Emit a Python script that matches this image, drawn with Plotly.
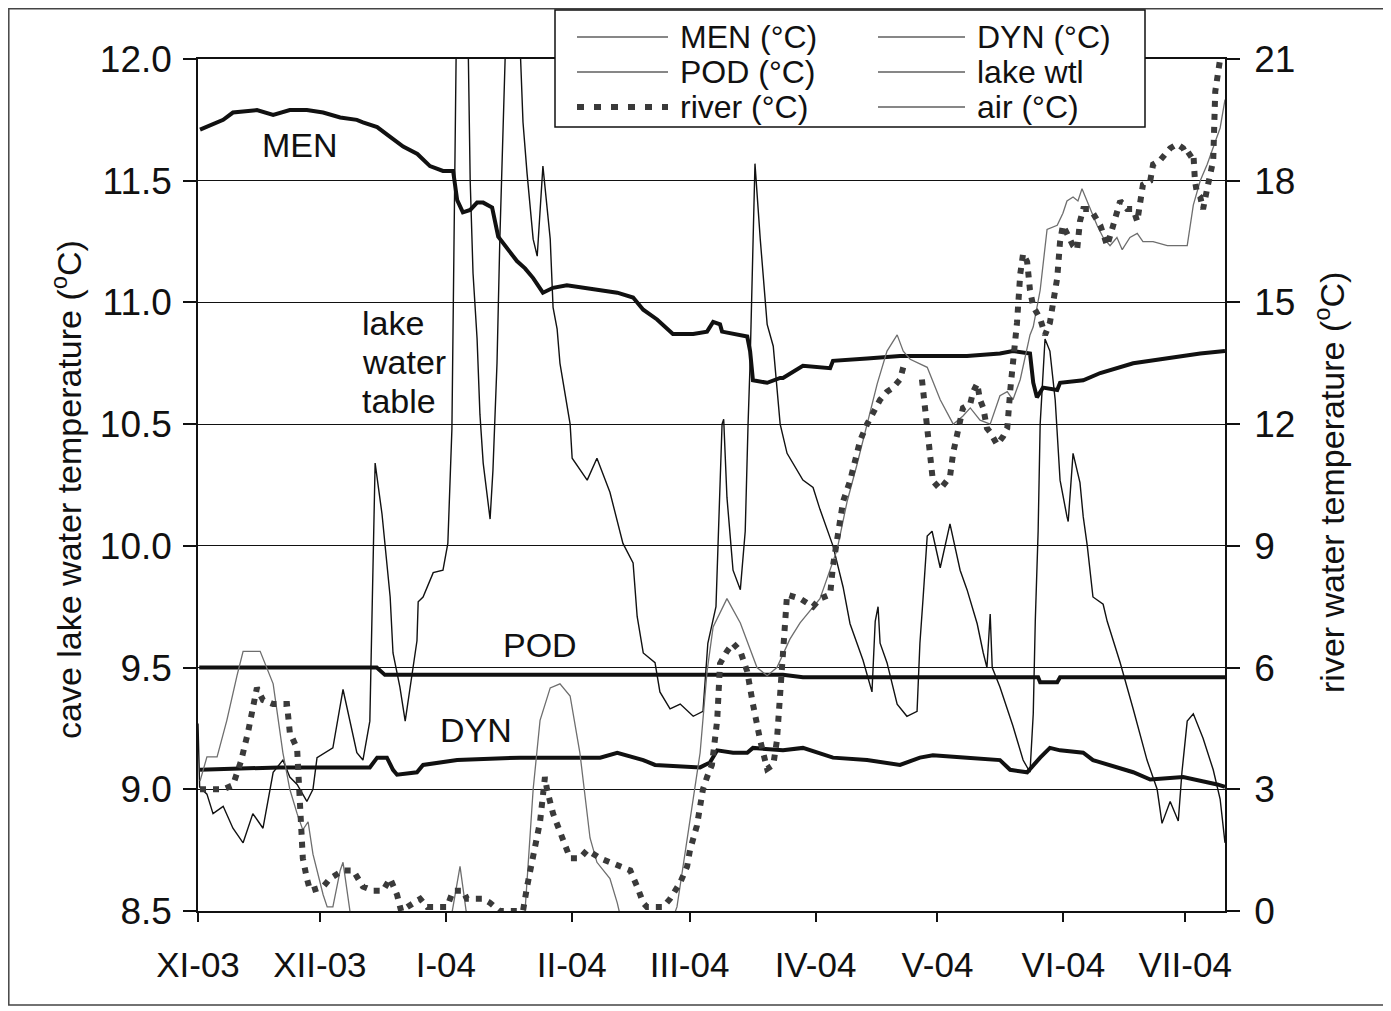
import pandas as pd
import plotly.graph_objects as go

# ---------------- data (days since 1 Nov 2003) ----------------
START = pd.Timestamp("2003-11-01")
END_DAY = 252.8

men_day = [0.5, 6.2, 8.6, 14.5, 18.5, 22.6, 26.8, 30.8, 35.0, 39.1, 40.6, 44.1, 47.3, 50.5, 54.0,
           57.1, 60.3, 62.8, 63.8, 65.2, 67.0, 68.7, 70.2, 72.4, 73.9, 76.1, 78.5, 80.5, 82.5, 84.9,
           87.4, 90.8, 94.8, 99.0, 103.2, 107.1, 109.6, 113.0, 115.5, 116.9, 121.9, 125.3, 126.8,
           128.5, 129.0, 131.7, 135.2, 135.9, 136.6, 140.1, 141.6, 143.3, 144.0, 148.9, 155.6, 156.3,
           164.7, 172.8, 180.9, 189.3, 197.4, 200.6, 204.8, 205.6, 206.5, 208.0, 211.5, 212.2, 217.9,
           222.1, 230.2, 238.6, 246.7, 252.8]
men_val = [11.71, 11.75, 11.78, 11.79, 11.77, 11.79, 11.79, 11.78, 11.76, 11.75, 11.74, 11.72, 11.68,
           11.64, 11.61, 11.56, 11.54, 11.54, 11.42, 11.37, 11.38, 11.41, 11.41, 11.39, 11.27, 11.22,
           11.17, 11.14, 11.10, 11.04, 11.06, 11.07, 11.06, 11.05, 11.04, 11.02, 10.97, 10.93, 10.89,
           10.87, 10.87, 10.88, 10.92, 10.91, 10.88, 10.87, 10.86, 10.80, 10.68, 10.67, 10.68, 10.69,
           10.69, 10.74, 10.73, 10.76, 10.77, 10.78, 10.78, 10.78, 10.79, 10.80, 10.79, 10.67, 10.61,
           10.65, 10.64, 10.67, 10.68, 10.71, 10.75, 10.77, 10.79, 10.80]

pod_day = [0.3, 30.0, 44.0, 46.0, 100.0, 144.0, 148.9, 200.0, 206.8, 207.3, 211.5, 212.2, 252.8]
pod_val = [9.50, 9.50, 9.50, 9.47, 9.47, 9.47, 9.46, 9.46, 9.46, 9.44, 9.44, 9.46, 9.46]

dyn_day = [0.5, 20.0, 42.3, 44.1, 46.5, 48.0, 49.0, 53.9, 55.4, 63.8, 79.3, 99.0, 103.2, 109.6, 112.5,
           123.6, 126.0, 127.8, 131.7, 135.2, 136.6, 144.0, 148.9, 156.3, 164.7, 172.8, 177.7, 180.9,
           189.3, 197.4, 199.9, 204.1, 207.3, 209.7, 212.2, 217.9, 220.3, 226.2, 230.2, 234.4, 242.5,
           250.9, 252.8]
dyn_val = [9.08, 9.09, 9.09, 9.13, 9.13, 9.08, 9.06, 9.07, 9.10, 9.12, 9.13, 9.13, 9.15, 9.12, 9.10,
           9.09, 9.11, 9.16, 9.15, 9.15, 9.17, 9.16, 9.17, 9.13, 9.12, 9.10, 9.13, 9.14, 9.13, 9.12,
           9.08, 9.07, 9.13, 9.17, 9.16, 9.15, 9.12, 9.09, 9.07, 9.04, 9.05, 9.02, 9.01]

# lake water table (drawn in the left-axis scale; values above 12 run off the chart)
lake_day = [0.0, 0.4, 2.2, 3.7, 6.2, 8.6, 11.1, 13.5, 16.0, 18.5, 20.9, 22.6, 24.4, 26.8, 28.3, 29.3,
            33.2, 35.7, 39.1, 40.6, 42.3, 42.8, 43.1, 43.6, 45.3, 46.5, 47.3, 48.0, 49.7, 51.0, 52.2,
            53.9, 54.2, 55.4, 57.9, 60.3, 61.5, 62.5, 63.8, 66.2, 67.0, 67.7, 68.7, 69.4, 70.2, 71.4,
            71.9, 72.6, 73.6, 74.3, 75.6, 76.3, 78.5, 80.0, 81.0, 82.5, 83.5, 84.9, 86.7, 87.4, 88.4,
            89.1, 91.6, 92.1, 95.8, 98.2, 101.4, 104.6, 107.1, 108.1, 109.6, 112.5, 113.7, 116.2,
            118.7, 121.9, 124.3, 125.5, 127.5, 128.5, 129.0, 129.4, 130.2, 131.0, 131.7, 133.5, 134.7,
            135.4, 135.9, 137.1, 138.4, 140.1, 141.6, 143.3, 145.0, 148.9, 151.4, 153.1, 156.3,
            158.8, 160.5, 163.7, 165.9, 166.7, 167.4, 167.9, 169.6, 172.1, 174.5, 177.0, 177.7,
            178.5, 179.5, 180.7, 182.7, 185.1, 187.6, 189.3, 191.8, 193.3, 194.2, 195.0, 195.5,
            197.4, 200.6, 203.1, 204.8, 205.6, 206.1, 206.8, 207.3, 208.5, 209.7, 211.0, 211.5,
            212.2, 213.9, 214.2, 215.4, 217.1, 217.9, 218.9, 220.3, 222.8, 223.8, 227.0, 230.2,
            233.6, 236.1, 237.3, 239.3, 241.3, 242.2, 243.5, 245.0, 247.4, 249.9, 251.6, 252.8]
lake_val = [9.27, 9.01, 8.98, 8.90, 8.93, 8.84, 8.78, 8.90, 8.84, 9.07, 9.12, 9.05, 9.02, 8.95, 9.00,
            9.13, 9.17, 9.41, 9.15, 9.12, 9.28, 9.69, 10.06, 10.34, 10.13, 9.93, 9.79, 9.56, 9.42,
            9.28, 9.42, 9.61, 9.77, 9.79, 9.89, 9.90, 10.01, 10.48, 12.40, 12.40, 11.50, 11.12,
            10.85, 10.54, 10.34, 10.16, 10.11, 10.31, 10.75, 11.26, 11.93, 12.40, 12.40, 11.74,
            11.53, 11.26, 11.19, 11.56, 11.26, 10.98, 10.89, 10.75, 10.50, 10.36, 10.27, 10.36,
            10.22, 10.01, 9.93, 9.71, 9.56, 9.52, 9.40, 9.33, 9.35, 9.30, 9.32, 9.60, 9.75, 10.20,
            10.50, 10.52, 10.20, 10.04, 9.90, 9.82, 10.06, 10.50, 10.75, 11.57, 11.26, 10.91, 10.82,
            10.50, 10.38, 10.27, 10.24, 10.15, 10.00, 9.83, 9.68, 9.53, 9.40, 9.69, 9.75, 9.60,
            9.52, 9.35, 9.30, 9.32, 9.60, 9.79, 10.04, 10.06, 9.91, 10.09, 9.90, 9.82, 9.68, 9.56,
            9.50, 9.72, 9.50, 9.42, 9.26, 9.12, 9.07, 9.31, 9.69, 10.06, 10.50, 10.85, 10.80, 10.60,
            10.47, 10.27, 10.12, 10.10, 10.38, 10.26, 10.12, 10.00, 9.79, 9.76, 9.69, 9.52, 9.33,
            9.12, 9.00, 8.86, 8.95, 8.87, 9.07, 9.28, 9.31, 9.21, 9.08, 8.96, 8.78]

# air temperature (right axis, deg C; negative values run below the chart)
air_day = [0.5, 2.2, 4.7, 7.1, 9.6, 11.1, 15.3, 18.5, 20.9, 22.6, 24.4, 25.8, 27.1, 28.3, 30.8, 31.8,
           33.2, 35.0, 35.7, 37.4, 40.0, 50.0, 60.0, 62.5, 64.5, 66.0, 70.0, 78.0, 80.5, 82.5, 84.2,
           86.7, 89.1, 91.6, 94.0, 96.5, 98.2, 101.4, 103.2, 106.0, 112.0, 117.9, 121.1, 123.6, 125.3,
           126.8, 130.2, 133.5, 137.6, 140.1, 142.5, 145.7, 148.2, 153.1, 157.3, 159.8, 162.2, 164.7,
           167.2, 169.6, 172.1, 173.6, 175.3, 179.5, 182.7, 185.9, 188.3, 190.1, 192.5, 195.0, 197.4,
           199.2, 200.6, 202.4, 204.8, 205.6, 207.3, 209.0, 211.5, 212.9, 213.9, 215.4, 216.6, 217.6,
           219.6, 221.3, 222.8, 224.5, 226.2, 227.5, 229.4, 231.2, 232.6, 235.1, 238.6, 241.8, 243.5,
           245.0, 246.7, 248.4, 249.9, 251.6, 252.8]
air_val = [3.2, 3.8, 3.8, 4.7, 5.8, 6.4, 6.4, 5.6, 3.9, 3.0, 2.4, 2.0, 2.2, 1.4, 0.4, 0.1, 0.1, 1.0,
           1.2, 0.0, -1.5, -2.0, -1.5, 0.0, 1.1, 0.0, -1.5, -1.5, 0.0, 3.0, 4.7, 5.5, 5.6, 5.3, 3.9,
           1.8, 1.2, 0.8, 0.2, -1.0, -1.5, 0.1, 2.2, 3.9, 5.9, 7.0, 7.7, 7.1, 6.0, 5.8, 6.0, 6.7, 7.1,
           7.7, 8.9, 10.1, 11.0, 12.0, 13.0, 13.8, 14.2, 13.8, 13.6, 13.4, 12.6, 12.0, 12.2, 12.4,
           12.1, 12.0, 12.7, 12.8, 12.6, 13.1, 14.2, 14.4, 15.3, 16.8, 16.9, 17.2, 17.5, 17.6, 17.5,
           17.8, 17.3, 16.9, 16.6, 16.4, 16.6, 16.3, 16.6, 16.7, 16.5, 16.5, 16.4, 16.4, 16.4, 17.4,
           18.0, 18.4, 18.8, 19.3, 20.0]

# river water temperature (right axis, deg C)
river_day = [0.5, 6.2, 8.6, 10.6, 12.3, 13.5, 14.5, 16.0, 18.5, 21.9, 22.6, 24.4, 25.1, 25.4, 25.8,
             26.8, 27.6, 30.8, 32.5, 35.7, 38.2, 40.6, 43.1, 45.5, 47.3, 49.0, 50.0, 54.7, 56.4,
             61.3, 62.8, 65.2, 66.2, 70.2, 71.9, 74.3, 80.0, 81.0, 82.5, 84.2, 85.4, 85.9, 87.4,
             89.9, 91.6, 94.0, 95.8, 99.0, 101.4, 103.9, 106.4, 108.1, 109.6, 110.5, 114.5, 116.2,
             118.7, 120.4, 121.1, 122.8, 123.6, 124.3, 125.3, 126.5, 127.8, 128.5, 130.2, 131.7,
             133.5, 135.2, 136.6, 137.6, 138.4, 140.1, 141.6, 142.5, 143.0, 143.3, 144.0, 144.5,
             145.0, 148.2, 151.4, 153.1, 154.9, 155.6, 156.3, 157.3, 158.1, 158.8, 160.5, 161.3,
             163.0, 164.7, 166.2, 167.9, 169.6, 171.1, 172.8, 173.6, 176.0, 178.2, 178.5, 179.0,
             179.5, 180.2, 180.9, 182.7, 184.4, 185.1, 185.9, 187.1, 188.3, 190.1, 190.8, 191.8,
             192.5, 193.3, 194.2, 195.0, 196.7, 198.2, 199.2, 200.0, 201.6, 202.4, 203.1, 204.1,
             204.8, 205.6, 207.3, 208.5, 209.7, 210.5, 211.5, 212.2, 212.9, 213.9, 215.4, 216.4,
             217.1, 217.9, 219.6, 220.3, 222.1, 222.8, 223.8, 225.0, 226.2, 227.0, 228.7, 230.2,
             231.2, 231.9, 232.6, 234.4, 235.1, 236.8, 237.6, 239.3, 241.0, 242.5, 243.5, 245.0,
             245.4, 245.9, 246.7, 247.4, 248.4, 249.9, 250.4, 251.6, 252.3]
river_val = [3.0, 3.0, 3.1, 3.7, 4.4, 5.0, 5.5, 5.2, 5.1, 5.1, 4.4, 4.0, 2.8, 2.0, 1.3, 0.8, 0.5,
             0.6, 0.8, 1.0, 1.0, 0.6, 0.5, 0.5, 0.8, 0.4, 0.0, 0.3, 0.1, 0.1, 0.5, 0.5, 0.3, 0.3,
             0.2, 0.0, 0.0, 0.6, 1.4, 2.2, 3.3, 3.0, 2.4, 1.8, 1.3, 1.3, 1.5, 1.3, 1.2, 1.1, 1.0,
             0.6, 0.2, 0.1, 0.1, 0.3, 0.7, 1.1, 1.5, 2.1, 2.6, 3.0, 3.3, 3.6, 4.7, 6.1, 6.4, 6.6,
             6.4, 5.9, 5.1, 4.5, 4.2, 3.5, 3.6, 4.2, 4.9, 5.5, 6.5, 7.3, 7.8, 7.7, 7.5, 7.7, 7.8,
             7.8, 8.5, 9.1, 9.6, 10.1, 10.6, 10.9, 11.6, 12.0, 12.3, 12.6, 12.8, 12.9, 13.1, 13.4,
             None, 13.1, 12.8, 12.3, 11.7, 11.0, 10.6, 10.4, 10.6, 10.7, 11.3, 11.9, 12.4, 12.5,
             12.8, 13.0, 12.6, 12.4, 11.9, 11.8, 11.5, 11.7, 11.9, 12.9, 14.5, 15.7, 16.2, 16.0,
             15.3, 14.9, 14.6, 14.2, 14.5, 15.0, 15.6, 16.5, 16.9, 16.7, 16.4, 16.3, 17.0, 17.3,
             17.3, 17.2, 16.9, 16.7, 16.4, 16.8, 17.2, 17.5, 17.3, 17.3, 17.0, 17.6, 17.9, 18.0,
             18.4, 18.5, 18.6, 18.8, 18.9, 18.8, 18.6, 18.7, 18.0, 17.7, 17.6, 17.3, 17.8, 18.5,
             20.2, 21.0, 21.0]

month_days = [0, 30, 61, 92, 121, 152, 182, 213, 243]
month_labels = ["XI-03", "XII-03", "I-04", "II-04", "III-04", "IV-04", "V-04", "VI-04", "VII-04"]
left_ticks = [8.5, 9.0, 9.5, 10.0, 10.5, 11.0, 11.5, 12.0]
right_ticks = [0, 3, 6, 9, 12, 15, 18, 21]


def to_dates(days):
    return [START + pd.Timedelta(days=d) for d in days]


# ---------------- layout geometry ----------------
# the page body adds an 8px offset, so the figure is drawn 8px smaller and shifted
OFF = 8
W, H = 1391 - OFF, 1011 - OFF
PL, PR, PT, PB = 198, 1225, 59, 911  # plot area in window pixels


def px(xp):
    return (xp - PL) / (PR - PL)


def py(yp):
    return (PB - yp) / (PB - PT)


FONT = "Liberation Sans, Arial, Helvetica, sans-serif"
BLACK = "#111111"

fig = go.Figure()

fig.add_trace(go.Scatter(x=to_dates(lake_day), y=lake_val, mode="lines", name="lake wtl",
                         line=dict(color=BLACK, width=1.4), yaxis="y"))
fig.add_trace(go.Scatter(x=to_dates(air_day), y=air_val, mode="lines", name="air (°C)",
                         line=dict(color="#6e6e6e", width=1.3), yaxis="y2"))
fig.add_trace(go.Scatter(x=to_dates(men_day), y=men_val, mode="lines", name="MEN (°C)",
                         line=dict(color=BLACK, width=4), yaxis="y"))
fig.add_trace(go.Scatter(x=to_dates(pod_day), y=pod_val, mode="lines", name="POD (°C)",
                         line=dict(color=BLACK, width=4), yaxis="y"))
fig.add_trace(go.Scatter(x=to_dates(dyn_day), y=dyn_val, mode="lines", name="DYN (°C)",
                         line=dict(color=BLACK, width=4), yaxis="y"))
fig.add_trace(go.Scatter(x=to_dates(river_day), y=river_val, mode="lines", name="river (°C)",
                         line=dict(color="#3a3a3a", width=6, dash="6px,7px"), yaxis="y2",
                         connectgaps=False))

shapes = []
annotations = []

# outer frame of the figure
shapes.append(dict(type="rect", xref="paper", yref="paper", x0=px(8.8), x1=px(1386), y0=py(1005),
                   y1=py(8.8), line=dict(color="#444444", width=1.5), layer="below"))
# legend box
shapes.append(dict(type="rect", xref="paper", yref="paper", x0=px(555), x1=px(1145), y0=py(127),
                   y1=py(10), line=dict(color=BLACK, width=1.5), fillcolor="white", layer="above"))

legend_items = [
    ("MEN (°C)", 577, 668, 678, 37, "solid"),
    ("POD (°C)", 577, 668, 678, 72, "solid"),
    ("river (°C)", 577, 668, 678, 107, "dash"),
    ("DYN (°C)", 878, 965, 975, 37, "solid"),
    ("lake wtl", 878, 965, 975, 72, "solid"),
    ("air (°C)", 878, 965, 975, 107, "solid"),
]
for text, lx0, lx1, tx, ty, style in legend_items:
    if style == "solid":
        shapes.append(dict(type="line", xref="paper", yref="paper", x0=px(lx0), x1=px(lx1),
                           y0=py(ty), y1=py(ty), line=dict(color=BLACK, width=1.2), layer="above"))
    else:
        shapes.append(dict(type="line", xref="paper", yref="paper", x0=px(lx0), x1=px(lx1),
                           y0=py(ty), y1=py(ty), line=dict(color="#3a3a3a", width=6, dash="7px,10px"),
                           layer="above"))
    annotations.append(dict(xref="paper", yref="paper", x=px(tx), y=py(ty), text=text,
                            showarrow=False, xanchor="left", yanchor="middle",
                            font=dict(family=FONT, size=32, color=BLACK)))


def label(text, xp, yp, anchor="center", size=34, angle=0):
    return dict(xref="paper", yref="paper", x=px(xp), y=py(yp), text=text, showarrow=False,
                xanchor=anchor, yanchor="middle", textangle=angle,
                font=dict(family=FONT, size=size, color=BLACK))


annotations += [
    label("MEN", 300, 145),
    label("lake", 360, 323, anchor="left"),
    label("water", 360, 362, anchor="left"),
    label("table", 360, 401, anchor="left"),
    label("POD", 540, 645),
    label("DYN", 476, 730),
    label("cave lake water temperature (<sup>o</sup>C)", 66, 490, angle=-90),
    label("river water temperature (<sup>o</sup>C)", 1330, 483, angle=-90),
]

fig.update_layout(
    width=W, height=H,
    margin=dict(l=PL - OFF, r=1391 - PR, t=PT - OFF, b=1011 - PB, pad=0),
    paper_bgcolor="white", plot_bgcolor="white",
    showlegend=False,
    font=dict(family=FONT, color=BLACK),
    shapes=shapes,
    annotations=annotations,
    xaxis=dict(
        type="date",
        range=[START, START + pd.Timedelta(days=END_DAY)],
        tickvals=to_dates(month_days), ticktext=month_labels,
        ticks="outside", ticklen=9, tickwidth=1.5, tickcolor=BLACK,
        ticklabelstandoff=13,
        tickfont=dict(family=FONT, size=35, color=BLACK),
        showline=True, linecolor=BLACK, linewidth=1.5, mirror=True,
        showgrid=False, zeroline=False,
    ),
    yaxis=dict(
        range=[8.5, 12.0],
        tickvals=left_ticks, ticktext=[f"{v:.1f}" for v in left_ticks],
        ticks="outside", ticklen=13, tickwidth=1.5, tickcolor=BLACK,
        tickfont=dict(family=FONT, size=37, color=BLACK),
        ticklabelstandoff=4,
        showline=True, linecolor=BLACK, linewidth=1.5,
        showgrid=True, gridcolor=BLACK, gridwidth=1.2, zeroline=False,
    ),
    yaxis2=dict(
        range=[0, 21], overlaying="y", side="right",
        tickvals=right_ticks, ticktext=[str(v) for v in right_ticks],
        ticks="outside", ticklen=13, tickwidth=1.5, tickcolor=BLACK,
        tickfont=dict(family=FONT, size=37, color=BLACK),
        ticklabelstandoff=7,
        showline=True, linecolor=BLACK, linewidth=1.5,
        showgrid=False, zeroline=False,
    ),
)

fig.write_html("out.html")
